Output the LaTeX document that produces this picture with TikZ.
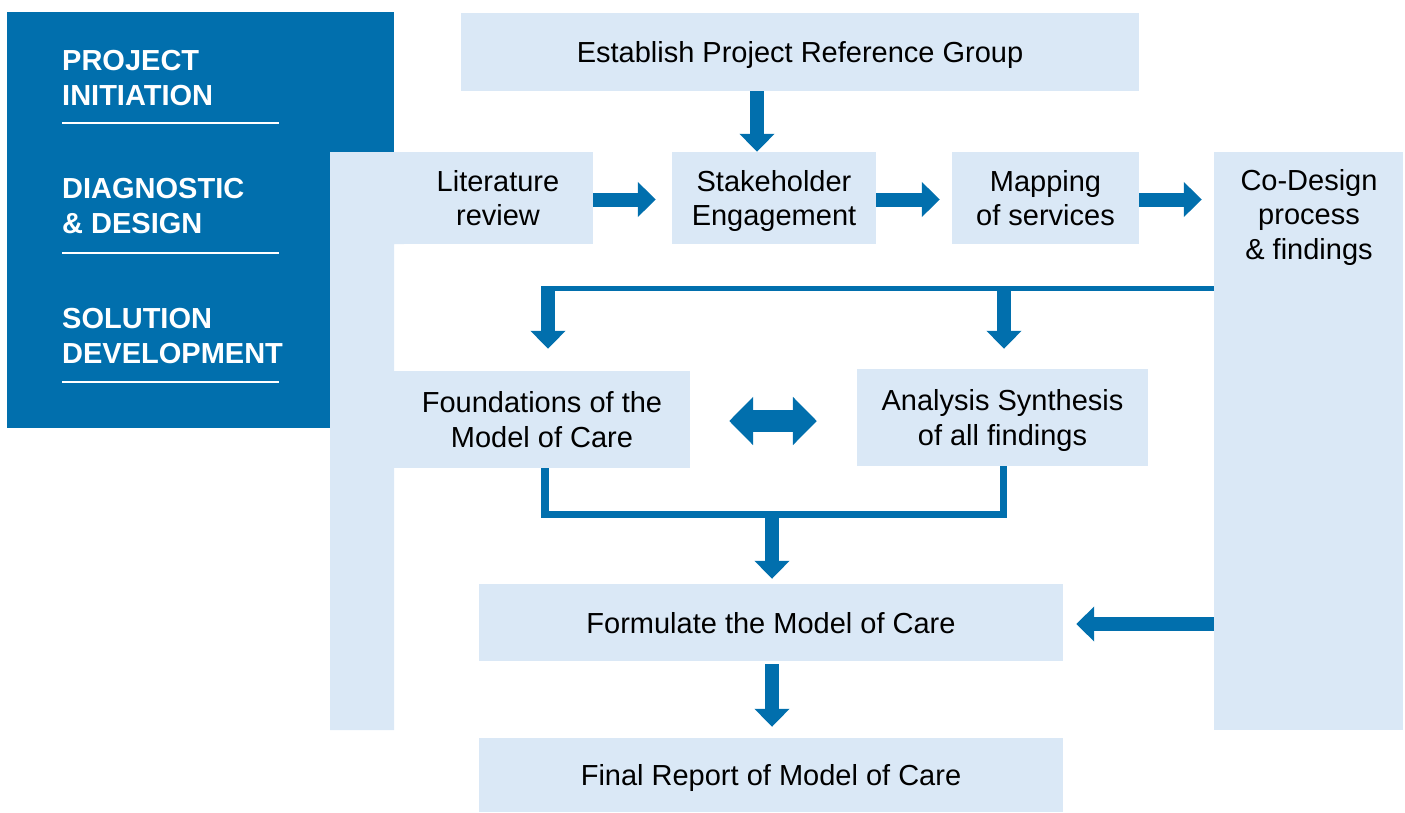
\documentclass[tikz,border=0pt]{standalone}
\usepackage{fontspec}
\setmainfont{Liberation Sans}
\usetikzlibrary{arrows.meta}
\definecolor{navy}{RGB}{1,111,173}
\definecolor{pale}{RGB}{218,232,246}

\begin{document}
\begin{tikzpicture}[x=1pt,y=-1pt,
  box/.style={fill=pale, inner sep=0pt, align=center, text depth=0pt,
    font=\fontsize{29}{34.5}\selectfont},
  phase/.style={text=white, inner sep=0pt, align=left, anchor=base west,
    font=\bfseries\fontsize{29}{35}\selectfont},
  rule/.style={draw=white, line width=2pt},
  blk/.style={draw=navy, line width=14pt, -{Triangle[width=34pt,length=18pt]}},
  dblk/.style={draw=navy, line width=22pt,
    {Triangle[width=47pt,length=24pt]}-{Triangle[width=47pt,length=24pt]}},
  bar/.style={draw=navy, line join=miter},
]
\useasboundingbox (0,0) rectangle (1405,812);

% phase panel (each heading is placed by the baseline of its last line)
\node[fill=navy, inner sep=0pt, minimum width=387pt, minimum height=416pt] (panel) at (200.5,220) {};
\node[phase] (p1) at (62,105) {PROJECT\\INITIATION};
\node[phase] (p2) at (62,233) {DIAGNOSTIC\\\& DESIGN};
\node[phase] (p3) at (62,363) {SOLUTION\\DEVELOPMENT};
\draw[rule] (62,123) -- (279,123);
\draw[rule] (62,253) -- (279,253);
\draw[rule] (62,382) -- (279,382);

% side column joined to the literature box
\fill[pale] (330,152) rectangle (404,244) (330,243) rectangle (394,730);

% process boxes
\node[box, minimum width=678pt, minimum height=78pt] (est) at (800,52) {Establish Project Reference Group};
\node[box, minimum width=190pt, minimum height=92pt] (lit) at (498,198) {Literature\\review};
\node[box, minimum width=204pt, minimum height=92pt] (stake) at (774,198) {Stakeholder\\Engagement};
\node[box, minimum width=187pt, minimum height=92pt] (map) at (1045.5,198) {Mapping\\of services};
\node[box, minimum width=189pt, minimum height=578pt] (codesign) at (1308.5,441) {};
\node[box, fill=none] (codesign-text) at (1309,214) {Co-Design\\process\\\& findings};
\node[box, minimum width=296pt, minimum height=97pt] (found) at (542,419.5) {Foundations of the\\Model of Care};
\node[box, minimum width=291pt, minimum height=97pt] (anal) at (1002.5,417.5) {Analysis Synthesis\\of all findings};
\node[box, minimum width=584pt, minimum height=77pt] (form) at (771,622.5) {Formulate the Model of Care};
\node[box, minimum width=584pt, minimum height=74pt] (final) at (771,775) {Final Report of Model of Care};

% connectors
\coordinate (estdrop) at ([xshift=-17pt]stake.north);
\draw[blk] (est.south -| estdrop) -- (estdrop);
\draw[blk, shorten >=16pt] (lit.east |- 0,199.5) -- (stake.west |- 0,199.5);
\draw[blk, shorten >=12pt] (stake.east |- 0,199.5) -- (map.west |- 0,199.5);
\draw[blk, shorten >=12pt] (map.east |- 0,199.5) -- (codesign.west |- 0,199.5);

\coordinate (fork) at (codesign.west |- 0,288.5);
\draw[bar, line width=5pt] (fork) -- (541,288.5);
\draw[blk, shorten >=22pt] (548,286) -- (found.north -| 548,0);
\draw[blk, shorten >=20pt] (1004,286) -- (anal.north -| 1004,0);

\draw[dblk, shorten <=39pt, shorten >=40pt] (found.east |- 0,421) -- (anal.west |- 0,421);

\draw[bar, line width=7.5pt] ([xshift=3pt]found.south) |- (772,514.5) -| ([xshift=1pt]anal.south);
\draw[blk, shorten >=5pt] (772,514.5) -- (form.north -| 772,0);

\draw[blk, shorten >=13pt] (codesign.west |- 0,624) -- (form.east |- 0,624);
\draw[blk, shorten <=3pt, shorten >=11pt] (form.south -| 772,0) -- (final.north -| 772,0);
\end{tikzpicture}
\end{document}
